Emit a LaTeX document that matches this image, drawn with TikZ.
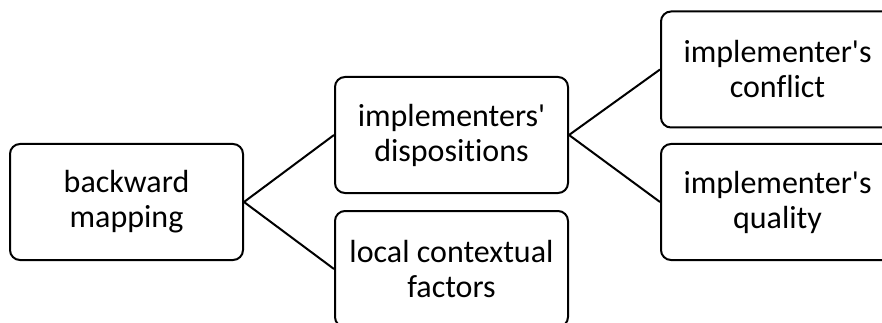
\documentclass[tikz,border=0pt]{standalone}
\usepackage{fontspec}
\setmainfont{Carlito}[Ligatures={TeXOff,NoCommon}]
\begin{document}
\begin{tikzpicture}[x=1pt,y=-1pt,
  box/.style={draw=black, line width=2pt, rounded corners=10pt, fill=white,
    minimum width=233pt, minimum height=116pt, inner sep=0pt,
    align=center, font=\fontsize{32}{35}\selectfont},
  link/.style={draw=black, line width=2pt}]
  \useasboundingbox (0,0) rectangle (882,323);
  \begin{scope}
    \clip (0,0) rectangle (882,323);
    \node[box] (bm)   at (126.5,202) {backward\\mapping};
    \node[box] (disp) at (451.5,135) {implementers'\\dispositions};
    \node[box] (loc)  at (451.5,269) {local contextual\\factors};
    \node[box] (conf) at (777.5,69.5) {implementer's\\conflict};
    \node[box] (qual) at (777.5,202) {implementer's\\quality};
    \draw[link] (bm.east) -- (disp.west);
    \draw[link] (bm.east) -- (loc.west);
    \draw[link] (disp.east) -- (conf.west);
    \draw[link] (disp.east) -- (qual.west);
  \end{scope}
\end{tikzpicture}
\end{document}
